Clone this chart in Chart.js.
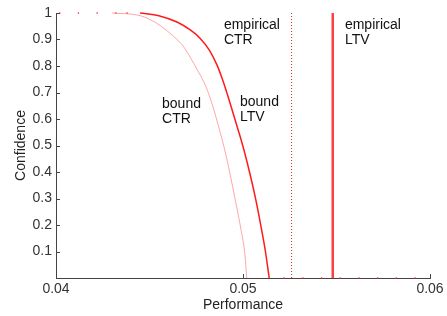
<!DOCTYPE html>
<html>
<head>
<meta charset="utf-8">
<script src="https://cdn.jsdelivr.net/npm/chart.js@4/dist/chart.umd.min.js"></script>
<style>
  html, body { margin: 0; padding: 0; background: #fff; }
  #wrap { width: 447px; height: 316px; }
</style>
</head>
<body>
<div id="wrap"><canvas id="chart" width="447" height="316"></canvas></div>
<script>
// bound curves
const ctrX = [0.0430, 0.0445, 0.0453, 0.0459, 0.0464, 0.0468, 0.0472, 0.0476, 0.0480, 0.0484, 0.0487, 0.0490, 0.0493, 0.0496, 0.0499, 0.0501, 0.0502];
const ctrY = [1.0, 0.99, 0.965, 0.935, 0.905, 0.875, 0.83, 0.78, 0.725, 0.645, 0.57, 0.49, 0.395, 0.29, 0.18, 0.09, 0.0];
const ltvX = [0.0445, 0.0455, 0.0465, 0.0472, 0.0477, 0.0482, 0.0486, 0.0489, 0.0492, 0.0495, 0.0498, 0.0501, 0.0504, 0.0507, 0.0510, 0.0512, 0.0514];
const ltvY = [1.0, 0.99, 0.965, 0.935, 0.905, 0.86, 0.805, 0.75, 0.685, 0.615, 0.545, 0.47, 0.385, 0.29, 0.18, 0.10, 0.0];

// sparse dots where the bounds sit flat at 1 and 0
const topDotsX = [0.0402, 0.0412, 0.0422, 0.0432, 0.0438];
const bottomDotsX = [0.0522, 0.0532, 0.0542, 0.0552, 0.0562, 0.0572, 0.0582, 0.0592];

// empirical values
const empiricalCTR = 0.0526;
const empiricalLTV = 0.0548;

const xTicks = [0.04, 0.05, 0.06];
const yTicks = [0.1, 0.2, 0.3, 0.4, 0.5, 0.6, 0.7, 0.8, 0.9, 1];

const labels = [
    { lines: ["empirical", "CTR"], x: 0.04898, y: 0.953 },
    { lines: ["empirical", "LTV"], x: 0.05545, y: 0.953 },
    { lines: ["bound", "CTR"], x: 0.04567, y: 0.656 },
    { lines: ["bound", "LTV"], x: 0.04984, y: 0.664 }
];

const FONT = "'Liberation Sans', Arial, sans-serif";

function pts(xs, ys) {
    return xs.map((x, i) => ({ x: x, y: ys[i] }));
}

const textPlugin = {
    id: "textPlugin",
    afterDraw(chart) {
        const ctx = chart.ctx;
        const xs = chart.scales.x;
        const ys = chart.scales.y;
        ctx.save();
        // inward tick marks
        ctx.strokeStyle = "#444";
        ctx.lineWidth = 1;
        const left = chart.chartArea.left;
        const bottom = chart.chartArea.bottom;
        yTicks.forEach(v => {
            const py = Math.round(ys.getPixelForValue(v)) + 0.5;
            ctx.beginPath();
            ctx.moveTo(left, py);
            ctx.lineTo(left + 4, py);
            ctx.stroke();
        });
        xTicks.forEach(v => {
            const px = Math.round(xs.getPixelForValue(v)) + 0.5;
            ctx.beginPath();
            ctx.moveTo(px, bottom);
            ctx.lineTo(px, bottom - 4);
            ctx.stroke();
        });
        // labels
        ctx.fillStyle = "#111";
        ctx.font = "14px " + FONT;
        ctx.textAlign = "left";
        ctx.textBaseline = "middle";
        labels.forEach(l => {
            const px = xs.getPixelForValue(l.x);
            const py = ys.getPixelForValue(l.y);
            l.lines.forEach((t, i) => ctx.fillText(t, px, py + i * 15));
        });
        ctx.restore();
    }
};

new Chart(document.getElementById("chart"), {
    type: "line",
    data: {
        datasets: [
            {
                data: pts(ctrX, ctrY),
                borderColor: "rgba(255, 60, 60, 0.45)",
                borderWidth: 1,
                pointRadius: 0,
                cubicInterpolationMode: "monotone",
                clip: 3
            },
            {
                data: pts(ltvX, ltvY),
                borderColor: "#ff1a1a",
                borderWidth: 1.5,
                pointRadius: 0,
                cubicInterpolationMode: "monotone",
                clip: 3
            },
            {
                data: topDotsX.map(x => ({ x: x, y: 1 })).concat(bottomDotsX.map(x => ({ x: x, y: 0 }))),
                showLine: false,
                pointRadius: 0.8,
                pointBorderWidth: 0,
                pointBackgroundColor: "#ff2020",
                clip: 3
            },
            {
                data: [{ x: empiricalCTR, y: 0 }, { x: empiricalCTR, y: 1 }],
                borderColor: "#d02020",
                borderWidth: 1,
                borderDash: [1, 2],
                pointRadius: 0
            },
            {
                data: [{ x: empiricalLTV, y: 0 }, { x: empiricalLTV, y: 1 }],
                borderColor: "#ff4040",
                borderWidth: 2.5,
                pointRadius: 0,
                clip: 3
            }
        ]
    },
    options: {
        responsive: false,
        animation: false,
        layout: { padding: { top: 13, right: 17, left: 0, bottom: 0 } },
        plugins: {
            legend: { display: false },
            tooltip: { enabled: false }
        },
        scales: {
            x: {
                type: "linear",
                min: 0.04,
                max: 0.06,
                afterBuildTicks(scale) { scale.ticks = xTicks.map(v => ({ value: v })); },
                afterFit(scale) { scale.height = 38; },
                grid: { display: false, drawTicks: false },
                border: { display: true, color: "#444", width: 1 },
                ticks: {
                    padding: 3,
                    color: "#333",
                    font: { family: FONT, size: 14 },
                    callback: v => v.toFixed(2),
                    maxRotation: 0
                },
                title: {
                    display: true,
                    text: "Performance",
                    color: "#222",
                    font: { family: FONT, size: 14 },
                    padding: { top: 0, bottom: 2 }
                }
            },
            y: {
                type: "linear",
                min: 0,
                max: 1,
                afterBuildTicks(scale) { scale.ticks = yTicks.map(v => ({ value: v })); },
                afterFit(scale) { scale.width = 56; },
                grid: { display: false, drawTicks: false },
                border: { display: true, color: "#444", width: 1 },
                ticks: {
                    padding: 4,
                    color: "#333",
                    font: { family: FONT, size: 14 },
                    callback: v => String(Math.round(v * 10) / 10)
                },
                title: {
                    display: true,
                    text: "Confidence",
                    color: "#222",
                    font: { family: FONT, size: 14 },
                    padding: { top: 13, bottom: 0 }
                }
            }
        }
    },
    plugins: [textPlugin]
});
</script>
</body>
</html>
